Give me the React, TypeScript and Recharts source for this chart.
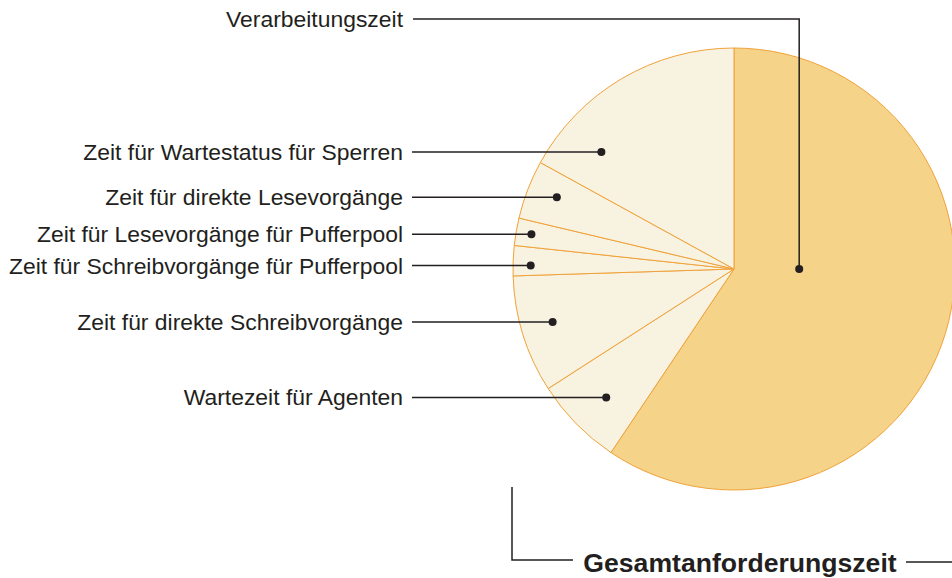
import React from "react"
import { PieChart, Pie, Cell } from "recharts"

// clockwise from 12 o'clock
const categories = [
  "Verarbeitungszeit",
  "Wartezeit für Agenten",
  "Zeit für direkte Schreibvorgänge",
  "Zeit für Schreibvorgänge für Pufferpool",
  "Zeit für Lesevorgänge für Pufferpool",
  "Zeit für direkte Lesevorgänge",
  "Zeit für Wartestatus für Sperren",
]
const shares = [59.4, 6.5, 8.6, 2.2, 2.0, 4.3, 17.0]
const totalLabel = "Gesamtanforderungszeit"

const data = categories.map((name, i) => ({ name, value: shares[i] }))

const MAIN_FILL = "#f5d388"
const MINOR_FILL = "#f8f2e1"
const EDGE = "#f0a23a"
const INK = "#231f20"
const FONT = "'Liberation Sans', Arial, Helvetica, sans-serif"

// where each callout dot sits: angle offset from slice middle, radius fraction
const dotSpots = [
  { da: 17, rf: 0.295 },
  { da: 0.7, rf: 0.82 },
  { da: -1, rf: 0.855 },
  { da: 1.2, rf: 0.92 },
  { da: 0, rf: 0.93 },
  { da: -1, rf: 0.865 },
  { da: 18, rf: 0.8 },
]
const LINE_X = 412
const TEXT_X = 403
const TOP_Y = 19

const RAD = Math.PI / 180

function Callout(props: any) {
  const { cx, cy, midAngle, outerRadius, index, name } = props
  const spot = dotSpots[index]
  const a = (midAngle + spot.da) * RAD
  const r = outerRadius * spot.rf
  const x = cx + r * Math.cos(a)
  const y = cy - r * Math.sin(a)
  const textStyle = { fontFamily: FONT, fontSize: 22.9, fill: INK }
  if (index === 0) {
    return (
      <g>
        <polyline points={`${x},${y} ${x},${TOP_Y} ${LINE_X + 1},${TOP_Y}`} fill="none" stroke={INK} strokeWidth={1.5} />
        <circle cx={x} cy={y} r={4} fill={INK} />
        <text x={TEXT_X} y={TOP_Y} textAnchor="end" dominantBaseline="central" style={textStyle}>{name}</text>
      </g>
    )
  }
  return (
    <g>
      <line x1={LINE_X} y1={y} x2={x} y2={y} stroke={INK} strokeWidth={1.5} />
      <circle cx={x} cy={y} r={4} fill={INK} />
      <text x={TEXT_X} y={y} textAnchor="end" dominantBaseline="central" style={textStyle}>{name}</text>
    </g>
  )
}

export default function App() {
  return (
    <div style={{ position: "absolute", left: 0, top: 0, width: 952, height: 578, background: "#fff" }}>
      <PieChart width={952} height={578} margin={{ top: 0, right: 0, bottom: 0, left: 0 }}>
        <Pie
          data={data}
          dataKey="value"
          nameKey="name"
          cx={734}
          cy={269}
          outerRadius={221}
          startAngle={90}
          endAngle={-270}
          stroke={EDGE}
          strokeWidth={1}
          label={Callout}
          labelLine={false}
          isAnimationActive={false}
        >
          {data.map((d, i) => (
            <Cell key={d.name} fill={i === 0 ? MAIN_FILL : MINOR_FILL} />
          ))}
        </Pie>
      </PieChart>
      <svg width={952} height={578} style={{ position: "absolute", left: 0, top: 0, pointerEvents: "none" }}>
        <polyline points="512,487 512,560 573,560" fill="none" stroke={INK} strokeWidth={1.5} />
        <text x={740} y={563} textAnchor="middle" dominantBaseline="central"
          style={{ fontFamily: FONT, fontSize: 26.6, fontWeight: "bold", fill: INK }}>{totalLabel}</text>
        <line x1={906} y1={562} x2={952} y2={562} stroke={INK} strokeWidth={1.5} />
      </svg>
    </div>
  )
}
